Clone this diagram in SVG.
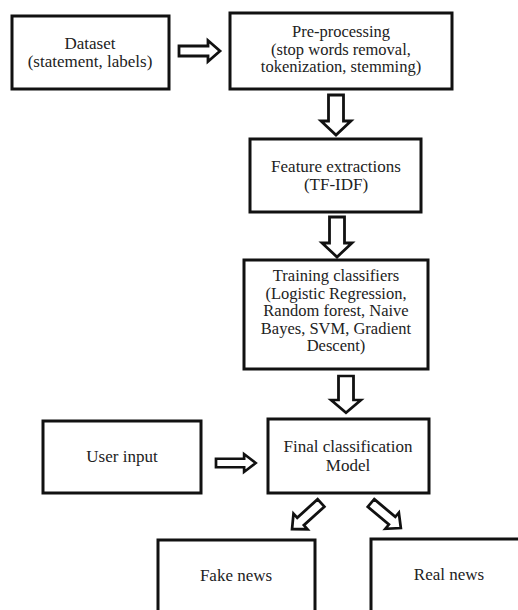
<svg xmlns="http://www.w3.org/2000/svg" width="518" height="610" viewBox="0 0 518 610">
<style>
.box{fill:#fff;stroke:#111;stroke-width:3}
.t{fill:#222;text-anchor:middle}
.arr{fill:#fff;stroke:#111;stroke-width:2.8;stroke-linejoin:miter}
</style>
<defs>
<path id="big" d="M0,-7.5 L26,-7.5 L26,-15 L40,0 L26,15 L26,7.5 L0,7.5 Z"/>
<path id="small" d="M0,-5 L29,-5 L29,-10.5 L41,0 L29,10.5 L29,5 L0,5 Z"/>
</defs>
<rect width="518" height="610" fill="#fff"/>
<g id="connectors">
<use href="#small" class="arr" transform="translate(179,51)"/>
<use href="#big" class="arr" transform="translate(336,95) rotate(90)"/>
<use href="#big" class="arr" transform="translate(337,217) rotate(90)"/>
<use href="#big" class="arr" transform="translate(346,376) rotate(90) scale(0.92,1)"/>
<use href="#small" class="arr" transform="translate(216,463) scale(0.97,0.85)"/>
<use href="#small" class="arr" transform="translate(321,503) rotate(138) scale(0.95,1)"/>
<use href="#small" class="arr" transform="translate(371,503) rotate(40) scale(0.95,1)"/>
</g>
<g id="dataset">
<rect class="box" x="12" y="16" width="157" height="73"/>
<text class="t" font-family="Liberation Serif" font-size="17" x="90" y="49">Dataset</text>
<text class="t" font-family="Liberation Serif" font-size="17" x="90" y="67">(statement, labels)</text>
</g>
<g id="preprocessing">
<rect class="box" x="230" y="13" width="222" height="76"/>
<text class="t" font-family="Liberation Serif" font-size="16.5" x="341" y="37">Pre-processing</text>
<text class="t" font-family="Liberation Serif" font-size="16.5" x="341" y="54.5">(stop words removal,</text>
<text class="t" font-family="Liberation Serif" font-size="16.5" x="341" y="72">tokenization, stemming)</text>
</g>
<g id="feature">
<rect class="box" x="250" y="139" width="171" height="73"/>
<text class="t" font-family="Liberation Serif" font-size="17" x="336" y="172">Feature extractions</text>
<text class="t" font-family="Liberation Serif" font-size="17" x="336" y="190">(TF-IDF)</text>
</g>
<g id="training">
<rect class="box" x="244" y="260" width="184" height="109"/>
<text class="t" font-family="Liberation Serif" font-size="16.5" x="336" y="281">Training classifiers</text>
<text class="t" font-family="Liberation Serif" font-size="16.5" x="336" y="298.5">(Logistic Regression,</text>
<text class="t" font-family="Liberation Serif" font-size="16.5" x="336" y="316">Random forest, Naive</text>
<text class="t" font-family="Liberation Serif" font-size="16.5" x="336" y="333.5">Bayes, SVM, Gradient</text>
<text class="t" font-family="Liberation Serif" font-size="16.5" x="336" y="351">Descent)</text>
</g>
<g id="userinput">
<rect class="box" x="43" y="421" width="158" height="72"/>
<text class="t" font-family="Liberation Serif" font-size="17" x="122" y="462">User input</text>
</g>
<g id="final">
<rect class="box" x="268" y="419" width="161" height="74"/>
<text class="t" font-family="Liberation Serif" font-size="17" x="348" y="452">Final classification</text>
<text class="t" font-family="Liberation Serif" font-size="17" x="348" y="471">Model</text>
</g>
<g id="fake">
<rect class="box" x="158" y="540" width="157" height="90"/>
<text class="t" font-family="Liberation Serif" font-size="17" x="236" y="581">Fake news</text>
</g>
<g id="real">
<rect class="box" x="371" y="539" width="170" height="90"/>
<text class="t" font-family="Liberation Serif" font-size="17" x="449" y="580">Real news</text>
</g>
</svg>
